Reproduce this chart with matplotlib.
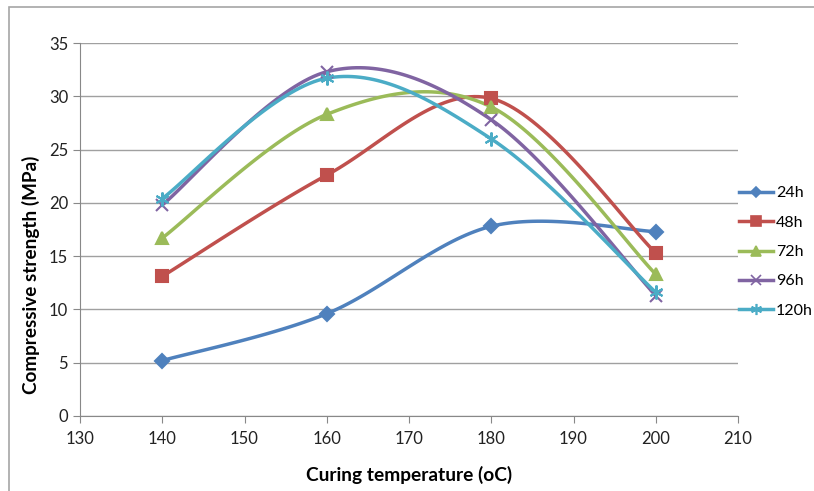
import matplotlib.pyplot as plt
import numpy as np
from matplotlib.patches import Rectangle

plt.rcParams['font.family'] = ['Lato', 'DejaVu Sans']

temps = [140, 160, 180, 200]
s24 = [5.2, 9.6, 17.8, 17.3]
s48 = [13.1, 22.6, 29.8, 15.3]
s72 = [16.7, 28.3, 29.0, 13.3]
s96 = [19.8, 32.3, 27.8, 11.3]
s120 = [20.4, 31.7, 26.0, 11.6]
labels = ['24h', '48h', '72h', '96h', '120h']

colors = ['#4F81BD', '#C0504D', '#9BBB59', '#8064A2', '#4BACC6']
markers = ['D', 's', '^', 'x', (6, 2, 0)]
msizes = [7, 9, 9, 9, 10]


def smooth(x, y, n=40):
    # excel-like smoothed line (bezier with catmull-rom control points)
    x = np.asarray(x, float)
    y = np.asarray(y, float)
    px = np.concatenate([[x[0]], x, [x[-1]]])
    py = np.concatenate([[y[0]], y, [y[-1]]])
    xs, ys = [], []
    t = np.linspace(0, 1, n)
    for i in range(1, len(px) - 2):
        p0 = np.array([px[i], py[i]])
        p3 = np.array([px[i + 1], py[i + 1]])
        p1 = p0 + (np.array([px[i + 1], py[i + 1]]) - np.array([px[i - 1], py[i - 1]])) / 6
        p2 = p3 - (np.array([px[i + 2], py[i + 2]]) - np.array([px[i], py[i]])) / 6
        b = ((1 - t) ** 3)[:, None] * p0 + (3 * (1 - t) ** 2 * t)[:, None] * p1 \
            + (3 * (1 - t) * t ** 2)[:, None] * p2 + (t ** 3)[:, None] * p3
        xs.extend(b[:, 0])
        ys.extend(b[:, 1])
    return xs, ys


fig = plt.figure(figsize=(8.14, 4.91), dpi=100)
ax = fig.add_axes([80 / 814, 1 - 416 / 491, 658 / 814, 373 / 491])

# light border round the chart area
fig.patches.append(Rectangle((9 / 814, -0.05), 1.1, 1 - 7 / 491 + 0.05, transform=fig.transFigure,
                             fill=False, edgecolor='#A6A6A6', lw=1.2))

handles = []
for vals, lab, c, m, ms in zip([s24, s48, s72, s96, s120], labels, colors, markers, msizes):
    xs, ys = smooth(temps, vals)
    ax.plot(xs, ys, color=c, lw=2.5, zorder=3)
    ax.plot(temps, vals, ls='none', marker=m, color=c, ms=ms, mew=1.5, zorder=4)
    h, = ax.plot([], [], color=c, lw=2.5, marker=m, ms=ms - 2, mew=1.2, label=lab)
    handles.append(h)

ax.set_xlim(130, 210)
ax.set_ylim(0, 35)
ax.set_xticks(range(130, 211, 10))
ax.set_yticks(range(0, 36, 5))
ax.grid(axis='y', color='#A0A0A0', lw=1)
ax.set_axisbelow(True)
for sp in ['top', 'right']:
    ax.spines[sp].set_visible(False)
for sp in ['left', 'bottom']:
    ax.spines[sp].set_color('#888888')
ax.tick_params(axis='both', colors='#888888', labelcolor='#222222', labelsize=12, length=5)
ax.tick_params(axis='x', pad=6)

ax.set_xlabel('Curing temperature (oC)', fontsize=13.8, fontweight='bold')
ax.set_ylabel('Compressive strength (MPa)', fontsize=13.6, fontweight='bold')
ax.xaxis.set_label_coords(0.5, -(475 - 416) / 373)
ax.yaxis.set_label_coords(-(80 - 31) / 658, (416 - 275) / 373)
ax.xaxis.label.set_va('center')
ax.yaxis.label.set_va('center')

fig.legend(handles=handles, loc='center left', bbox_to_anchor=(733 / 814, 1 - 252 / 491),
           frameon=False, fontsize=11.5, handlelength=2.1, handletextpad=0.2, labelspacing=0.95,
           borderaxespad=0)

fig.savefig('out.png', dpi=100)
